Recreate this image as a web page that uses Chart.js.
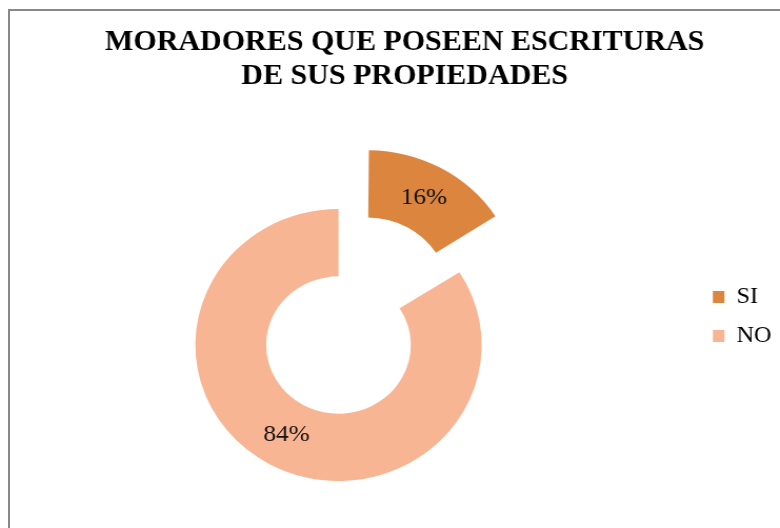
<!DOCTYPE html>
<html>
<head>
<meta charset="utf-8">
<script src="https://cdn.jsdelivr.net/npm/chart.js@4/dist/chart.umd.min.js"></script>
<style>
  html, body { margin: 0; padding: 0; background: #fff; overflow: hidden; width: 780px; height: 528px; }
  #frame { position: absolute; left: 8px; top: 9px; width: 800px; height: 600px;
           border-left: 2px solid #888; border-top: 2px solid #888; }
  #c { position: absolute; left: -18.6px; top: 0; }
</style>
</head>
<body>
<div id="frame"></div>
<canvas id="c" width="759" height="528" style="width:798.8px;height:528px;"></canvas>
<script>
// ---- data ----
const titleLines = ['MORADORES QUE POSEEN ESCRITURAS', 'DE SUS PROPIEDADES'];
const categories = ['SI', 'NO'];
const values = [16, 84];
const valueLabels = ['16%', '84%'];

// ---- plugins ----
const legendFit = {
  id: 'legendFit',
  beforeLayout(chart) {
    const lg = chart.legend;
    if (lg && !lg.__patched) {
      const orig = lg.fit;
      lg.fit = function () {
        orig.call(this);
        this.width = 125.8;
        if (this.columnSizes && this.columnSizes[0]) this.columnSizes[0].height += 57;
      };
      lg.__patched = true;
    }
  }
};

const sliceLabels = {
  id: 'sliceLabels',
  afterDatasetsDraw(chart) {
    const meta = chart.getDatasetMeta(0);
    const ctx = chart.ctx;
    ctx.save();
    ctx.font = '24px "Liberation Serif", "Times New Roman", serif';
    ctx.fillStyle = '#111';
    ctx.textAlign = 'center';
    ctx.textBaseline = 'middle';
    meta.data.forEach((arc, i) => {
      const p = arc.getProps(['x', 'y', 'startAngle', 'endAngle', 'innerRadius', 'outerRadius', 'circumference'], true);
      const t = (arc.options.offset || 0) / 4;
      const fix = 1 - Math.sin(Math.min(Math.PI, p.circumference || 0));
      const mid = (p.startAngle + p.endAngle) / 2;
      const r = (p.innerRadius + p.outerRadius) / 2 + t + t * fix;
      ctx.fillText(valueLabels[i], p.x + Math.cos(mid) * r, p.y + Math.sin(mid) * r);
    });
    ctx.restore();
  }
};

new Chart(document.getElementById('c'), {
  type: 'doughnut',
  data: {
    labels: categories,
    datasets: [{
      data: values,
      backgroundColor: ['#DC853F', '#F8B593'],
      borderWidth: 0,
      offset: [228, 0],
      radius: 136,
      cutout: '50.5%'
    }]
  },
  options: {
    responsive: false,
    devicePixelRatio: 1,
    animation: false,
    radius: 136,
    cutout: '50.5%',
    layout: { padding: { left: 0, right: -46, top: 0, bottom: 0 } },
    plugins: {
      title: {
        display: true,
        text: titleLines,
        color: '#000',
        font: { family: '"Liberation Serif", "Times New Roman", serif', size: 28.5, weight: 'bold', lineHeight: '34px' },
        padding: { top: 26, bottom: 68 }
      },
      legend: {
        display: true,
        position: 'right',
        align: 'center',
        fullSize: false,
        labels: {
          color: '#000',
          font: { family: '"Liberation Serif", "Times New Roman", serif', size: 23 },
          boxWidth: 11,
          boxHeight: 12,
          padding: 16
        }
      },
      tooltip: { enabled: false }
    }
  },
  plugins: [legendFit, sliceLabels]
});
</script>
</body>
</html>
